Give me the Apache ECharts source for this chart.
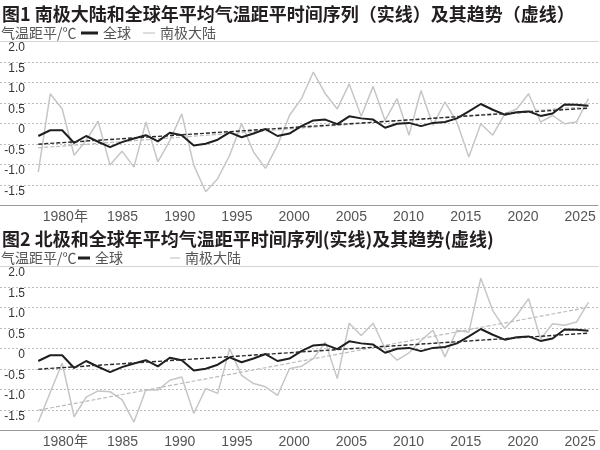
<!DOCTYPE html>
<html>
<head>
<meta charset="utf-8">
<script src="https://cdn.jsdelivr.net/npm/echarts@6/dist/echarts.min.js"></script>
<style>
  html, body { margin: 0; padding: 0; background: #fff; }
  #chart { width: 600px; height: 450px; }
</style>
</head>
<body>
<div id="chart"></div>
<script>
// 年份与距平值（℃）
const years = [1979, 1980, 1981, 1982, 1983, 1984, 1985, 1986, 1987, 1988,
  1989, 1990, 1991, 1992, 1993, 1994, 1995, 1996, 1997, 1998,
  1999, 2000, 2001, 2002, 2003, 2004, 2005, 2006, 2007, 2008,
  2009, 2010, 2011, 2012, 2013, 2014, 2015, 2016, 2017, 2018,
  2019, 2020, 2021, 2022, 2023, 2024, 2025];

const globalTemp = [-0.3, -0.16, -0.16, -0.47, -0.3, -0.44, -0.57, -0.45, -0.36, -0.28,
  -0.43, -0.22, -0.28, -0.53, -0.49, -0.39, -0.21, -0.33, -0.24, -0.13,
  -0.3, -0.24, -0.06, 0.08, 0.1, -0.01, 0.18, 0.13, 0.1, -0.1,
  0, 0.02, -0.06, 0.02, 0.04, 0.13, 0.3, 0.48, 0.34, 0.22,
  0.28, 0.3, 0.19, 0.25, 0.47, 0.46, 0.44];

const antarcticTemp = [-1.18, 0.73, 0.36, -0.77, -0.41, 0.06, -1.01, -0.67, -1.06, 0.04,
  -0.93, -0.41, 0.24, -1.01, -1.66, -1.34, -0.77, 0, -0.69, -1.09,
  -0.53, 0.2, 0.61, 1.26, 0.73, 0.36, 0.97, 0.18, 0.91, 0.08,
  0.61, -0.28, 0.81, -0.04, 0.53, 0.04, -0.81, 0, -0.28, 0.24,
  0.36, 0.73, 0.04, 0.2, 0, 0.04, 0.61];

const arcticTemp = [-1.79, -1.07, -0.35, -1.66, -1.18, -1.03, -1.05, -1.24, -1.79, -1.0,
  -1.01, -0.77, -0.69, -1.58, -0.97, -1.09, 0, -0.65, -0.85, -0.93,
  -1.14, -0.49, -0.43, -0.24, 0.16, -0.73, 0.62, 0.32, 0.62, 0,
  -0.28, -0.1, 0.2, 0.45, -0.2, 0.45, 0.4, 1.72, 0.93, 0.49,
  0.81, 1.22, 0.24, 0.61, 0.57, 0.65, 1.13];

// 趋势线端点
const trendYears = [1979, 2025];
const globalTrend = [-0.5, 0.38];
const antarcticTrend = [-0.59, 0.42];
const arcticTrend = [-1.5, 1.01];

const xTickYears = [1980, 1985, 1990, 1995, 2000, 2005, 2010, 2015, 2020, 2025];

const FONT = '"Liberation Sans", "Noto Sans CJK SC", sans-serif';
const CJK = '"Noto Sans CJK SC", sans-serif';

function pairs(xs, ys) {
  return xs.map((x, i) => [x, ys[i]]);
}

const panels = [
  {
    title: '图1 南极大陆和全球年平均气温距平时间序列（实线）及其趋势（虚线）',
    grayData: antarcticTemp,
    grayTrend: antarcticTrend,
    blackLegend: { left: 81, width: 17 },
    grayLegend: { left: 143, width: 12 },
    off: 0,
  },
  {
    title: '图2 北极和全球年平均气温距平时间序列(实线)及其趋势(虚线)',
    grayData: arcticTemp,
    grayTrend: arcticTrend,
    blackLegend: { left: 78, width: 12 },
    grayLegend: { left: 170, width: 10 },
    off: 225,
  },
];

const chart = echarts.init(document.getElementById('chart'));

const option = {
  animation: false,
  backgroundColor: '#fff',
  title: [],
  legend: [],
  grid: [],
  xAxis: [],
  yAxis: [],
  series: [],
};

panels.forEach((p, g) => {
  option.title.push({
    text: p.title,
    left: 2,
    top: 5 + p.off,
    padding: 0,
    textStyle: { fontFamily: CJK, fontSize: 18, fontWeight: 'bold', color: '#231f20' },
  });
  option.title.push({
    text: '气温距平/℃',
    left: 1,
    top: 26 + p.off,
    padding: 0,
    textStyle: { fontFamily: CJK, fontSize: 14, fontWeight: 'normal', color: '#555' },
  });

  option.legend.push({
    data: ['全球'],
    left: p.blackLegend.left,
    top: 26 + p.off,
    padding: 0,
    icon: 'rect',
    itemWidth: p.blackLegend.width,
    itemHeight: 3,
    selectedMode: false,
    textStyle: { fontFamily: CJK, fontSize: 14, color: '#555' },
  });
  option.legend.push({
    data: ['南极大陆'],
    left: p.grayLegend.left,
    top: 26 + p.off,
    padding: 0,
    icon: 'rect',
    itemWidth: p.grayLegend.width,
    itemHeight: 1.2,
    selectedMode: false,
    textStyle: { fontFamily: CJK, fontSize: 14, color: '#555' },
  });

  option.grid.push({
    left: 0,
    right: 2,
    top: 41.7 + p.off,
    height: 164,
    outerBoundsMode: 'none',
  });

  // 数据轴（不显示刻度，顶部实线）
  option.xAxis.push({
    type: 'value',
    gridIndex: g,
    min: 1975.8,
    max: 2025.8,
    position: 'top',
    axisLine: { show: true, onZero: false, lineStyle: { color: '#d4d4d4', width: 1 } },
    axisTick: { show: false },
    axisLabel: { show: false },
    splitLine: { show: false },
  });
  // 年份标签轴
  option.xAxis.push({
    type: 'value',
    gridIndex: g,
    min: 1974.29,
    max: 2026.56,
    position: 'bottom',
    axisLine: { show: true, onZero: false, lineStyle: { color: '#9a9a9a', width: 1 } },
    axisTick: { show: false },
    splitLine: { show: false },
    axisLabel: {
      customValues: xTickYears,
      formatter: (v) => (v === 1980 ? '1980年' : String(v)),
      fontFamily: FONT,
      fontSize: 14,
      color: '#555',
      margin: 4,
    },
  });

  option.yAxis.push({
    type: 'value',
    gridIndex: g,
    min: -2,
    max: 2,
    interval: 0.5,
    axisLine: { show: false },
    axisTick: { show: false },
    splitLine: { show: true, lineStyle: { type: [2, 2], color: '#bdbdbd', width: 1 } },
    axisLabel: {
      inside: true,
      align: 'right',
      verticalAlign: 'top',
      margin: 25,
      fontFamily: FONT,
      fontSize: 12,
      color: '#333',
      formatter: (v) => (v === -2 ? '' : v === 0 ? '0' : v.toFixed(1)),
    },
  });

  const xi = g * 2;
  option.series.push({
    name: '南极大陆',
    type: 'line',
    xAxisIndex: xi,
    yAxisIndex: g,
    data: pairs(years, p.grayData),
    symbol: 'none',
    color: '#c6c6c6',
    lineStyle: { color: '#c6c6c6', width: 1.5 },
    z: 2,
  });
  option.series.push({
    name: '南极大陆趋势',
    type: 'line',
    xAxisIndex: xi,
    yAxisIndex: g,
    data: pairs(trendYears, p.grayTrend),
    symbol: 'none',
    lineStyle: { color: '#bcbcbc', width: 1.2, type: [4, 2] },
    z: 3,
  });
  option.series.push({
    name: '全球',
    type: 'line',
    xAxisIndex: xi,
    yAxisIndex: g,
    data: pairs(years, globalTemp),
    symbol: 'none',
    color: '#1f1f1f',
    lineStyle: { color: '#1f1f1f', width: 2 },
    z: 4,
  });
  option.series.push({
    name: '全球趋势',
    type: 'line',
    xAxisIndex: xi,
    yAxisIndex: g,
    data: pairs(trendYears, globalTrend),
    symbol: 'none',
    lineStyle: { color: '#2a2a2a', width: 1.4, type: [4, 2] },
    z: 5,
  });
});

chart.setOption(option);
</script>
</body>
</html>
